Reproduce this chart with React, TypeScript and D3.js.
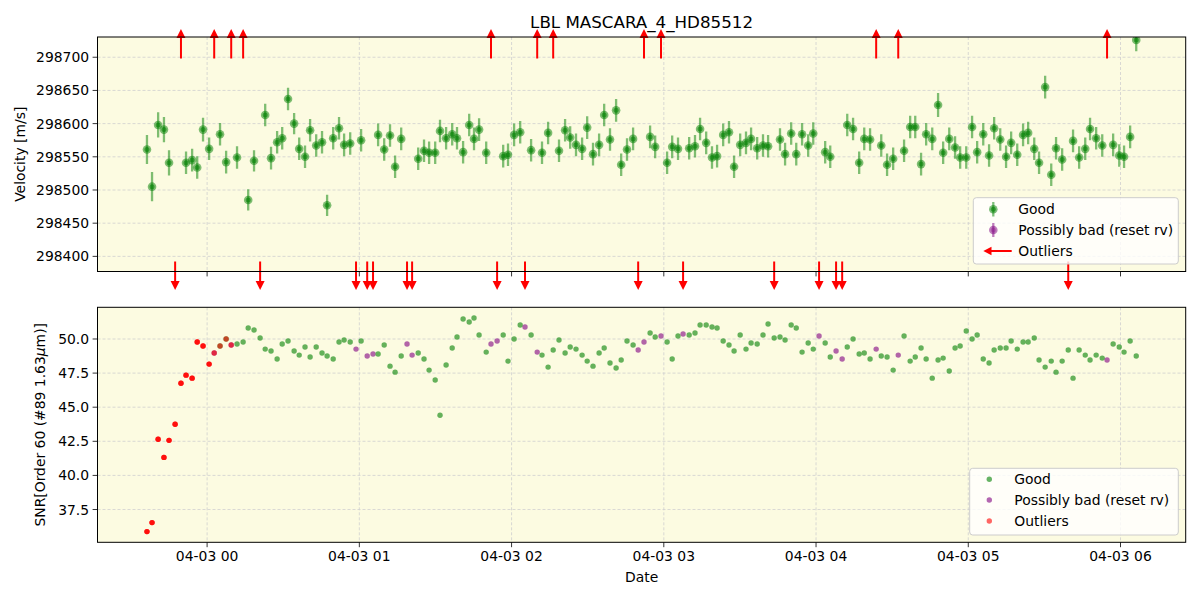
import React from "react";
import * as d3 from "d3";

// ---- data (minutes after 04-03 00:00) ----
const times = [
  -23.7, -21.7, -19.3, -17.0, -15.0, -12.6, -10.3, -8.3, -5.9, -3.9,
  -1.6, 0.8, 2.8, 5.1, 7.5, 9.5, 11.8, 14.2, 16.2, 18.5,
  20.9, 22.9, 25.2, 27.6, 29.6, 31.9, 34.3, 36.3, 38.6, 40.6,
  43.0, 45.3, 47.3, 49.7, 52.0, 54.0, 56.4, 58.7, 60.7, 63.1,
  65.4, 67.4, 69.8, 72.1, 74.1, 76.5, 78.8, 80.8, 83.2, 85.5,
  87.5, 89.9, 91.8, 94.2, 96.6, 98.5, 100.9, 103.3, 105.2, 107.2,
  110.0, 111.9, 114.3, 116.7, 118.6, 121.0, 123.4, 125.3, 127.7, 130.1,
  132.0, 134.4, 136.4, 138.7, 141.1, 143.1, 145.4, 147.8, 149.8, 152.1,
  154.5, 156.5, 158.8, 161.2, 163.2, 165.5, 167.9, 169.9, 172.2, 174.6,
  176.6, 178.9, 181.3, 183.3, 185.6, 187.6, 190.0, 192.3, 194.3, 196.7,
  199.0, 201.0, 203.4, 205.7, 207.7, 210.1, 212.4, 214.4, 216.8, 219.1,
  221.1, 223.5, 225.8, 227.8, 230.2, 232.2, 234.5, 236.9, 238.9, 241.2,
  243.6, 245.6, 247.9, 250.3, 252.3, 254.6, 257.0, 259.0, 261.3, 263.7,
  265.7, 268.0, 270.4, 272.4, 274.7, 277.1, 279.1, 281.4, 283.4, 285.8,
  288.1, 290.1, 292.5, 294.8, 296.8, 299.2, 301.5, 303.5, 305.9, 308.2,
  310.2, 312.6, 314.9, 316.9, 319.3, 321.6, 323.6, 326.0, 327.9, 330.3,
  332.7, 334.6, 337.0, 339.4, 341.3, 343.7, 346.1, 348.0, 350.4, 352.8,
  354.7, 357.1, 359.5, 361.4, 363.8, 366.2,
];

const snr = [
  35.88, 36.54, 42.65, 41.32, 42.57, 43.75, 46.76, 47.35, 47.13, 49.78,
  49.49, 48.16, 48.97, 49.49, 50.0, 49.56, 49.63, 49.78, 50.81, 50.66,
  50.07, 49.26, 49.12, 48.53, 49.63, 49.85, 49.12, 48.82, 49.41, 48.68,
  49.41, 48.97, 48.75, 48.53, 49.78, 49.93, 49.78, 49.26, 49.85, 48.75,
  48.9, 48.9, 49.56, 48.01, 47.57, 48.75, 49.63, 48.82, 48.97, 48.53,
  47.72, 46.99, 44.41, 48.09, 49.34, 50.15, 51.47, 51.25, 51.54, 50.29,
  49.04, 49.63, 49.85, 50.29, 48.38, 50.0, 51.03, 50.88, 50.29, 49.04,
  48.82, 47.94, 49.19, 49.93, 48.97, 49.41, 49.26, 48.82, 48.38, 48.01,
  48.97, 49.34, 48.24, 47.87, 48.46, 49.85, 49.56, 49.19, 49.78, 50.44,
  50.15, 50.22, 49.78, 48.53, 50.22, 50.37, 50.29, 50.44, 51.03, 51.03,
  50.88, 50.81, 49.85, 49.56, 49.12, 50.29, 49.26, 49.71, 49.63, 50.29,
  51.1, 50.07, 50.15, 49.93, 51.03, 50.81, 49.04, 49.71, 49.26, 50.22,
  49.71, 48.68, 49.12, 48.53, 49.41, 50.0, 48.9, 48.97, 48.53, 49.26,
  48.75, 48.68, 47.72, 48.82, 50.22, 48.38, 48.68, 49.34, 48.53, 47.13,
  48.46, 48.6, 47.65, 49.34, 49.49, 50.59, 50.0, 50.29, 48.53, 48.24,
  49.19, 49.34, 49.34, 49.85, 49.26, 49.78, 49.78, 50.07, 48.46, 47.94,
  48.38, 47.57, 48.38, 49.19, 47.13, 49.19, 48.82, 48.46, 48.82, 48.6,
  48.46, 49.63, 49.41, 49.04, 49.85, 48.75,
];

// g = good, p = possibly bad (reset rv), r = outlier
const snrFlag = [
  "r", "r", "r", "r", "r", "r", "r", "r", "r", "r",
  "r", "r", "p", "g", "g", "p", "g", "g", "g", "g",
  "g", "g", "g", "g", "g", "g", "g", "g", "g", "g",
  "g", "g", "g", "g", "g", "g", "g", "p", "g", "p",
  "p", "g", "g", "g", "g", "g", "p", "p", "g", "g",
  "g", "g", "g", "g", "g", "g", "g", "g", "g", "g",
  "g", "p", "p", "g", "g", "g", "g", "p", "g", "p",
  "g", "g", "g", "g", "g", "g", "g", "g", "g", "g",
  "g", "g", "g", "g", "g", "g", "g", "p", "p", "g",
  "g", "p", "g", "g", "g", "p", "g", "g", "g", "g",
  "g", "g", "g", "g", "g", "g", "g", "g", "g", "g",
  "g", "g", "g", "g", "g", "g", "g", "g", "g", "p",
  "g", "g", "p", "p", "g", "g", "g", "g", "g", "p",
  "g", "g", "g", "p", "g", "g", "g", "g", "g", "g",
  "g", "g", "g", "g", "g", "g", "g", "g", "g", "g",
  "g", "g", "g", "g", "g", "g", "g", "g", "g", "g",
  "g", "g", "g", "g", "g", "g", "g", "g", "g", "g",
  "p", "g", "g", "g", "g", "g",
];

// indices of SNR points flagged as outliers (drawn in red on top)
const snrOutlierIdx = [0, 1, 2, 3, 4, 5, 6, 7, 8, 9, 10, 11, 12, 13, 14, 15];

const rv = [
  298561, 298505, 298598, 298591, 298541, null, null, 298541, 298545, 298534,
  298591, 298562, null, 298584, 298542, null, 298549, null, 298485, 298544,
  null, 298613, 298548, 298572, 298578, 298637, 298600, 298562, 298550, 298590,
  298567, 298572, 298477, 298578, 298593, 298568, 298570, null, 298575, null,
  null, 298583, 298561, 298582, 298535, 298577, null, null, 298547, 298559,
  298556, 298556, 298589, 298578, 298584, 298578, 298557, 298598, 298577, 298591,
  298556, null, null, 298551, 298553, 298583, 298587, null, 298560, null,
  298556, 298586, null, 298559, 298590, 298579, 298568, 298562, 298594, 298554,
  298568, 298613, 298576, 298620, 298538, 298561, 298577, null, null, 298580,
  298565, null, 298541, 298565, 298562, null, 298563, 298566, 298592, 298571,
  298549, 298551, 298583, 298587, 298535, 298568, 298571, 298577, 298563, 298567,
  298566, null, 298576, 298554, 298585, 298554, 298584, 298567, 298585, null,
  298557, 298550, null, null, 298598, 298592, 298541, 298577, 298576, null,
  298567, 298538, 298547, null, 298559, 298595, 298595, 298539, 298584, 298577,
  298628, 298556, 298577, 298564, 298549, 298549, 298595, 298557, 298584, 298552,
  298593, 298576, 298550, 298571, 298553, 298583, 298586, 298562, 298541, 298655,
  298523, 298563, 298546, null, 298574, 298549, 298562, 298592, 298578, 298567,
  null, 298568, 298552, 298550, 298580, 298726,
];

const rvErr = [
  22, 22, 19, 19, 19, null, null, 17, 17, 17,
  18, 17, null, 17, 17, null, 17, null, 16, 16,
  null, 17, 17, 17, 17, 17, 16, 17, 17, 17,
  17, 17, 16, 17, 17, 17, 17, null, 17, null,
  null, 17, 17, 17, 17, 17, null, null, 17, 17,
  17, 17, 17, 17, 17, 17, 17, 17, 17, 17,
  17, null, null, 17, 17, 17, 17, null, 17, null,
  17, 17, null, 17, 17, 17, 17, 17, 17, 17,
  17, 17, 17, 17, 17, 17, 17, null, null, 17,
  17, null, 17, 17, 17, null, 17, 17, 17, 17,
  17, 17, 17, 17, 17, 17, 17, 17, 17, 17,
  17, null, 17, 17, 17, 17, 17, 17, 17, null,
  17, 17, null, null, 17, 17, 17, 17, 17, null,
  17, 17, 17, null, 17, 17, 17, 17, 17, 17,
  18, 17, 17, 17, 17, 17, 17, 17, 17, 17,
  17, 17, 17, 17, 17, 17, 17, 17, 17, 17,
  17, 17, 17, null, 17, 17, 17, 17, 17, 17,
  null, 17, 17, 17, 17, 17,
];

const upArrowTimes = [-10.3, 2.8, 9.5, 14.2, 111.9, 130.1, 136.4, 172.2, 178.9, 263.7, 272.4, 354.7];
const downArrowTimes = [-12.6, 20.9, 58.7, 63.1, 65.4, 78.8, 80.8, 114.3, 125.3, 169.9, 187.6, 223.5, 241.2, 247.9, 250.3, 339.4];

const rvTicks = [298400, 298450, 298500, 298550, 298600, 298650, 298700];
const snrTicks = [37.5, 40.0, 42.5, 45.0, 47.5, 50.0];
const rvDomain = [298377.2, 298730.5];

// ---- layout ----
const W = 1200;
const H = 600;
const L = 97.5;
const R = 1185.7;
const TOP_T = 37;
const TOP_B = 271.5;
const BOT_T = 307.3;
const BOT_B = 542.3;
const FONT = "DejaVu Sans, sans-serif";
const BG = "#fcfbe1";
const GRID = "#cfcfcf";

const BASE = Date.UTC(2023, 3, 3, 0, 0, 0);
const toDate = (m: number) => new Date(BASE + m * 60000);

export default function App() {
  const dates = times.map(toDate);
  const [t0, t1] = d3.extent(dates) as [Date, Date];
  const pad = (t1.getTime() - t0.getTime()) * 0.05;
  const x = d3
    .scaleUtc()
    .domain([new Date(t0.getTime() - pad), new Date(t1.getTime() + pad)])
    .range([L, R]);
  const xTicks = x.ticks(d3.utcHour.every(1) as any);
  const fmt = d3.utcFormat("%m-%d %H");

  const yTop = d3.scaleLinear().domain(rvDomain).range([TOP_B, TOP_T]);
  const [s0, s1] = d3.extent(snr) as [number, number];
  const sp = (s1 - s0) * 0.05;
  const yBot = d3.scaleLinear().domain([s0 - sp, s1 + sp]).range([BOT_B, BOT_T]);

  const colorOf: Record<string, string> = { g: "green", p: "purple", r: "red" };
  const opacityOf: Record<string, number> = { g: 0.6, p: 0.6, r: 0.85 };

  const arrowHead = (cx: number, tipY: number, dir: number) => {
    const hl = 9;
    const hw = 4.5;
    return `M${cx},${tipY} L${cx - hw},${tipY - dir * hl} L${cx + hw},${tipY - dir * hl} Z`;
  };

  const tickLen = 4.9;

  const yAxis = (scale: any, ticks: number[], f: (v: number) => string) => (
    <g>
      {ticks.map((t) => (
        <g key={t}>
          <line x1={L} x2={R} y1={scale(t)} y2={scale(t)} stroke={GRID} strokeWidth={0.8} strokeDasharray="3,2" />
          <line x1={L - tickLen} x2={L} y1={scale(t)} y2={scale(t)} stroke="black" strokeWidth={0.8} />
          <text x={L - tickLen - 3.5} y={scale(t)} textAnchor="end" dominantBaseline="central" fontSize={13.9} fontFamily={FONT} fill="black">
            {f(t)}
          </text>
        </g>
      ))}
    </g>
  );

  const xGrid = (top: number, bottom: number, labels: boolean) => (
    <g>
      {xTicks.map((t) => (
        <g key={t.getTime()}>
          <line x1={x(t)} x2={x(t)} y1={top} y2={bottom} stroke={GRID} strokeWidth={0.8} strokeDasharray="3,2" />
          <line x1={x(t)} x2={x(t)} y1={bottom} y2={bottom + tickLen} stroke="black" strokeWidth={0.8} />
          {labels && (
            <text x={x(t)} y={bottom + tickLen + 3.5} dy="0.76em" textAnchor="middle" fontSize={13.9} fontFamily={FONT} fill="black">
              {fmt(t)}
            </text>
          )}
        </g>
      ))}
    </g>
  );

  return (
    <svg width={W} height={H} style={{ position: "absolute", left: 0, top: 0, background: "white" }}>
      <defs>
        <clipPath id="clipTop">
          <rect x={L} y={TOP_T} width={R - L} height={TOP_B - TOP_T} />
        </clipPath>
        <clipPath id="clipBot">
          <rect x={L} y={BOT_T} width={R - L} height={BOT_B - BOT_T} />
        </clipPath>
      </defs>
      <rect x={0} y={0} width={W} height={H} fill="white" />

      {/* ---- top panel ---- */}
      <rect x={L} y={TOP_T} width={R - L} height={TOP_B - TOP_T} fill={BG} />
      {xGrid(TOP_T, TOP_B, false)}
      {yAxis(yTop, rvTicks, (v) => String(v))}
      <g clipPath="url(#clipTop)">
        {rv.map((v, i) =>
          v === null ? null : (
            <line
              key={"e" + i}
              x1={x(dates[i])}
              x2={x(dates[i])}
              y1={yTop(v - (rvErr[i] as number))}
              y2={yTop(v + (rvErr[i] as number))}
              stroke="green"
              strokeOpacity={0.5}
              strokeWidth={2.3}
            />
          )
        )}
        {rv.map((v, i) =>
          v === null ? null : (
            <g key={"m" + i}>
              <circle cx={x(dates[i])} cy={yTop(v)} r={4.3} fill="green" fillOpacity={0.5} />
              <circle cx={x(dates[i])} cy={yTop(v)} r={2.5} fill="green" fillOpacity={0.55} />
            </g>
          )
        )}
      </g>
      {/* outlier arrows */}
      {upArrowTimes.map((m, i) => {
        const cx = x(toDate(m));
        const tail = TOP_T + 21.5;
        const tip = TOP_T - 8;
        return (
          <g key={"u" + i}>
            <line x1={cx} x2={cx} y1={tail} y2={tip + 6} stroke="red" strokeWidth={2} />
            <path d={arrowHead(cx, tip, -1)} fill="red" />
          </g>
        );
      })}
      {downArrowTimes.map((m, i) => {
        const cx = x(toDate(m));
        const tail = TOP_B - 10;
        const tip = TOP_B + 18.5;
        return (
          <g key={"d" + i}>
            <line x1={cx} x2={cx} y1={tail} y2={tip - 6} stroke="red" strokeWidth={2} />
            <path d={arrowHead(cx, tip, 1)} fill="red" />
          </g>
        );
      })}
      <rect x={L} y={TOP_T} width={R - L} height={TOP_B - TOP_T} fill="none" stroke="black" strokeWidth={1} />

      {/* top legend */}
      <g>
        <rect x={973.3} y={197.7} width={205} height={66.3} rx={3} fill="white" fillOpacity={0.8} stroke="#cccccc" strokeWidth={1} />
        <line x1={993.3} x2={993.3} y1={202} y2={216.5} stroke="green" strokeOpacity={0.5} strokeWidth={2.3} />
        <circle cx={993.3} cy={209.3} r={4.3} fill="green" fillOpacity={0.5} />
        <circle cx={993.3} cy={209.3} r={2.5} fill="green" fillOpacity={0.55} />
        <line x1={993.3} x2={993.3} y1={223} y2={237} stroke="purple" strokeOpacity={0.5} strokeWidth={2.3} />
        <circle cx={993.3} cy={230} r={4.3} fill="purple" fillOpacity={0.5} />
        <circle cx={993.3} cy={230} r={2.5} fill="purple" fillOpacity={0.3} />
        <line x1={1011.7} x2={989} y1={251} y2={251} stroke="red" strokeWidth={2} />
        <path d="M983.3,251 L991.5,246.8 L991.5,255.2 Z" fill="red" />
        <text x={1018.3} y={209.3} dominantBaseline="central" fontSize={13.9} fontFamily={FONT}>Good</text>
        <text x={1018.3} y={230} dominantBaseline="central" fontSize={13.9} fontFamily={FONT}>Possibly bad (reset rv)</text>
        <text x={1018.3} y={251} dominantBaseline="central" fontSize={13.9} fontFamily={FONT}>Outliers</text>
      </g>

      {/* ---- bottom panel ---- */}
      <rect x={L} y={BOT_T} width={R - L} height={BOT_B - BOT_T} fill={BG} />
      {xGrid(BOT_T, BOT_B, true)}
      {yAxis(yBot, snrTicks, (v) => v.toFixed(1))}
      <g clipPath="url(#clipBot)">
        {snr.map((v, i) => (
          <circle key={"s" + i} cx={x(dates[i])} cy={yBot(v)} r={2.7} fill={colorOf[snrFlag[i]]} fillOpacity={opacityOf[snrFlag[i]]} />
        ))}
        {snrOutlierIdx.map((i) => (
          <circle key={"o" + i} cx={x(dates[i])} cy={yBot(snr[i])} r={2.7} fill="red" fillOpacity={0.6} />
        ))}
      </g>
      <rect x={L} y={BOT_T} width={R - L} height={BOT_B - BOT_T} fill="none" stroke="black" strokeWidth={1} />

      {/* bottom legend */}
      <g>
        <rect x={969.7} y={468.3} width={208.6} height={66.7} rx={3} fill="white" fillOpacity={0.8} stroke="#cccccc" strokeWidth={1} />
        <circle cx={989.3} cy={479.3} r={2.7} fill="green" fillOpacity={0.6} />
        <circle cx={989.3} cy={500} r={2.7} fill="purple" fillOpacity={0.6} />
        <circle cx={989.3} cy={521} r={2.7} fill="red" fillOpacity={0.6} />
        <text x={1014.3} y={479.3} dominantBaseline="central" fontSize={13.9} fontFamily={FONT}>Good</text>
        <text x={1014.3} y={500} dominantBaseline="central" fontSize={13.9} fontFamily={FONT}>Possibly bad (reset rv)</text>
        <text x={1014.3} y={521} dominantBaseline="central" fontSize={13.9} fontFamily={FONT}>Outliers</text>
      </g>

      {/* titles & labels */}
      <text x={(L + R) / 2} y={28.3} textAnchor="middle" fontSize={16.7} fontFamily={FONT}>LBL MASCARA_4_HD85512</text>
      <text x={(L + R) / 2} y={582} textAnchor="middle" fontSize={13.9} fontFamily={FONT}>Date</text>
      <text transform={`translate(25,${(TOP_T + TOP_B) / 2}) rotate(-90)`} textAnchor="middle" fontSize={13.9} fontFamily={FONT}>Velocity [m/s]</text>
      <text transform={`translate(45,${(BOT_T + BOT_B) / 2}) rotate(-90)`} textAnchor="middle" fontSize={13.9} fontFamily={FONT}>
        SNR[Order 60 (#89 1.63<tspan fontStyle="italic">μ</tspan>m)]
      </text>
    </svg>
  );
}
